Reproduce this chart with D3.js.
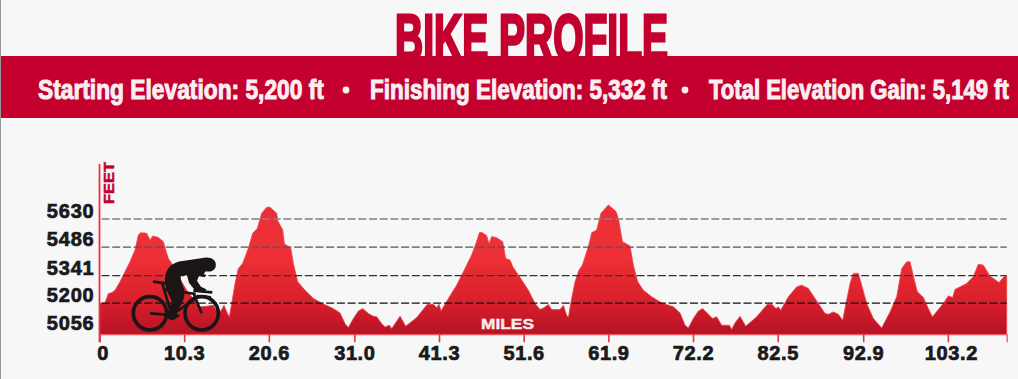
<!DOCTYPE html>
<html>
<head>
<meta charset="utf-8">
<script src="https://cdn.jsdelivr.net/npm/d3@7"></script>
<style>
    html, body { margin: 0; padding: 0; background: #f7f7f8; }
    svg { display: block; }
    .heavy { font-family: "Liberation Sans", Arial, sans-serif; font-weight: bold; }
</style>
</head>
<body>
<svg id="chart" width="1018" height="379"></svg>
<script>
// elevation profile (miles, feet)
const profileMiles = [
    0, 0.67, 1.08, 1.48, 1.89, 2.5, 3.1, 3.71, 4.32, 4.73, 5.01, 5.74, 6.15, 6.47, 7.16, 7.77, 8.05, 8.38, 8.78, 9.39,
    10.0, 10.61, 11.22, 12.23, 13.04, 13.85, 14.46, 14.87, 15.15, 15.56, 15.8, 16.08, 16.49, 16.89, 17.42, 18.11, 18.64,
    19.2, 19.73, 20.34, 20.74, 21.56, 21.68, 22.29, 22.49, 23.26, 23.58, 24.11, 25.0, 26.02, 27.23, 28.45, 29.26,
    29.87, 30.27, 30.88, 31.49, 32.02, 32.71, 33.32, 33.72, 34.33, 34.73, 35.26, 35.55, 35.95, 36.56, 36.96, 37.25,
    38.59, 39.88, 40.61, 41.02, 41.3, 41.55, 42.44, 43.45, 44.47, 45.28, 45.8, 46.21, 46.49, 47.1, 47.39, 47.71, 48.32,
    49.05, 49.41, 49.94, 50.27, 51.16, 52.17, 52.98, 53.59, 54.08, 54.6, 55.01, 56.02, 56.43, 56.83, 57.04, 57.32,
    57.85, 58.33, 58.74, 59.47, 59.88, 60.48, 61.01, 61.9, 62.84, 63.16, 63.61, 64.54, 64.94, 65.47, 66.16, 67.17,
    68.39, 69.81, 70.62, 71.23, 71.63, 72.24, 72.85, 73.38, 74.07, 74.55, 75.08, 75.69, 76.62, 76.91, 77.31, 77.92,
    78.32, 78.61, 79.95, 81.24, 81.77, 82.3, 82.58, 82.87, 83.8, 84.81, 85.42, 86.23, 87.04, 88.26, 88.66, 89.27,
    89.88, 90.41, 90.77, 91.3, 91.71, 92.31, 92.72, 93.33, 94.14, 95.15, 96.17, 96.98, 97.59, 98.19, 98.6, 99.13,
    99.49, 100.22, 100.83, 101.32, 102.65, 103.26, 103.79, 104.07, 105.49, 106.3, 106.91, 107.52, 108.33, 109.43,
    110.03, 110.36
];
const profileFeet = [
    5200, 5201, 5249, 5253, 5266, 5309, 5360, 5411, 5471, 5548, 5560, 5557, 5522, 5543, 5536, 5514, 5471, 5428, 5403, 5360,
    5309, 5266, 5232, 5181, 5184, 5189, 5147, 5167, 5189, 5147, 5130, 5198, 5300, 5377, 5403, 5480, 5557,
    5582, 5659, 5690, 5690, 5659, 5621, 5574, 5502, 5483, 5403, 5309, 5266, 5224, 5195, 5172, 5150,
    5095, 5075, 5121, 5160, 5172, 5147, 5133, 5130, 5095, 5078, 5087, 5070, 5095, 5133, 5104, 5082,
    5126, 5194, 5194, 5177, 5194, 5160, 5224, 5292, 5377, 5446, 5505, 5560, 5562, 5545, 5502, 5540, 5534,
    5514, 5428, 5420, 5386, 5331, 5266, 5198, 5167, 5177, 5193, 5167, 5167, 5189, 5138, 5126, 5198,
    5309, 5369, 5394, 5488, 5560, 5574, 5659, 5702, 5668, 5625, 5514, 5492, 5394, 5309, 5266, 5232,
    5201, 5181, 5150, 5087, 5073, 5121, 5160, 5172, 5143, 5121, 5130, 5087, 5087, 5065, 5099, 5133,
    5104, 5082, 5130, 5194, 5194, 5172, 5181, 5164, 5232, 5283, 5292, 5275, 5224, 5147, 5143, 5155,
    5143, 5112, 5189, 5300, 5352, 5352, 5292, 5198, 5121, 5073, 5155, 5232, 5377, 5411, 5411, 5317,
    5258, 5229, 5172, 5130, 5198, 5237, 5229, 5270, 5300, 5335, 5399, 5394, 5338, 5305,
    5335, 5338
];

const feetTicks = [5056, 5200, 5341, 5486, 5630];
const gridFeet = [5200, 5341, 5486, 5630];
const gridColors = ['#111111', '#333333', '#555555', '#808080'];
const mileTicks = [0, 10.3, 20.6, 31.0, 41.3, 51.6, 61.9, 72.2, 82.5, 92.9, 103.2];
const statTexts = ['Starting Elevation: 5,200 ft', 'Finishing Elevation: 5,332 ft', 'Total Elevation Gain: 5,149 ft'];

const baseFeet = 5041; // bottom edge of the filled area

const svg = d3.select('#chart');

const x = d3.scaleLinear().domain([0, 110.36]).range([99.5, 1006.7]);
const y = d3.scaleLinear().domain([5056, 5630]).range([331.3, 219]);

// squeeze a text into a given width by scaling it, no condensed font is available
function fitText(sel, left, baseline, width, angle) {
    const natural = sel.node().getComputedTextLength();
    sel.attr('transform', `translate(${left},${baseline}) rotate(${angle || 0}) scale(${width / natural},1)`);
}

// left edge of the scan
svg.append('rect').attr('width', 1).attr('height', 379).attr('fill', '#999');

// title sits behind the band so the letters run into it
const title = svg.append('text')
    .attr('class', 'heavy')
    .attr('font-size', 64)
    .attr('fill', '#c4002f')
    .attr('stroke', '#c4002f')
    .attr('stroke-width', 3)
    .text('BIKE PROFILE');
fitText(title, 395, 60, 273);

svg.append('rect')
    .attr('x', 1).attr('y', 56)
    .attr('width', 1017).attr('height', 62)
    .attr('fill', '#c4002f');

// stats line in the band
const statBox = [[38, 286], [370, 297], [709, 300]];
svg.selectAll('.stat')
    .data(statTexts)
    .enter().append('text')
    .attr('class', 'stat heavy')
    .attr('font-size', 27)
    .attr('fill', '#fbeef1')
    .attr('stroke', '#fbeef1')
    .attr('stroke-width', 1)
    .text(d => d)
    .each(function(d, i) {
        fitText(d3.select(this), statBox[i][0], 99, statBox[i][1]);
    });

svg.selectAll('.dot')
    .data([346, 685])
    .enter().append('circle')
    .attr('cx', d => d).attr('cy', 90).attr('r', 3.4)
    .attr('fill', '#fbeef1');

// gradient for the profile fill
const defs = svg.append('defs');
const grad = defs.append('linearGradient')
    .attr('id', 'profileFill')
    .attr('gradientUnits', 'userSpaceOnUse')
    .attr('x1', 0).attr('x2', 0)
    .attr('y1', 205).attr('y2', y(baseFeet));
grad.append('stop').attr('offset', 0).attr('stop-color', '#ec2f37');
grad.append('stop').attr('offset', 0.4).attr('stop-color', '#ee3036');
grad.append('stop').attr('offset', 0.75).attr('stop-color', '#d81f2b');
grad.append('stop').attr('offset', 1).attr('stop-color', '#b51226');

const area = d3.area()
    .x((d, i) => x(profileMiles[i]))
    .y0(y(baseFeet))
    .y1(d => y(d));

svg.append('path')
    .attr('d', area(profileFeet))
    .attr('fill', 'url(#profileFill)')
    .attr('stroke', '#ee4046')
    .attr('stroke-width', 0.8)
    .attr('stroke-linejoin', 'round');

// dashed elevation lines, drawn over the fill
svg.selectAll('.grid')
    .data(gridFeet)
    .enter().append('line')
    .attr('class', 'grid')
    .attr('x1', x(0) + 2).attr('x2', x(110.36))
    .attr('y1', d => y(d)).attr('y2', d => y(d))
    .attr('stroke', (d, i) => gridColors[i])
    .attr('stroke-width', 1.3)
    .attr('stroke-dasharray', '8,2.7');

// axes
const xAxis = svg.append('g')
    .attr('transform', `translate(0,${y(baseFeet)})`)
    .call(d3.axisBottom(x).tickValues(mileTicks).tickSize(8).tickFormat(d => d === 0 ? '0' : d.toFixed(1)));
xAxis.select('.domain').attr('stroke', '#ee4a50').attr('stroke-width', 1.2);
xAxis.selectAll('.tick line').attr('stroke', '#e8353c').attr('stroke-width', 1.6);
xAxis.selectAll('.tick text')
    .attr('class', 'heavy')
    .attr('y', 12)
    .attr('dx', d => (d === 0 ? 3 : d === 103.2 ? 3 : 0))
    .attr('font-size', 20)
    .attr('letter-spacing', 0.6)
    .attr('fill', '#1a1a1a')
    .attr('stroke', '#1a1a1a')
    .attr('stroke-width', 0.7);

const yAxis = svg.append('g')
    .attr('transform', `translate(${x(0)},0)`)
    .call(d3.axisLeft(y).tickValues(feetTicks).tickSize(0).tickPadding(5).tickFormat(d3.format('d')));
yAxis.select('.domain').remove();
yAxis.selectAll('.tick text')
    .attr('class', 'heavy')
    .attr('dy', -1.5)
    .attr('font-size', 20)
    .attr('letter-spacing', 0.8)
    .attr('fill', '#1a1a1a')
    .attr('stroke', '#1a1a1a')
    .attr('stroke-width', 0.7);

// vertical red axis line runs above the top tick and below the base
svg.append('line')
    .attr('x1', x(0)).attr('x2', x(0))
    .attr('y1', 164).attr('y2', 342)
    .attr('stroke', '#e8353c')
    .attr('stroke-width', 1.8);

const feetLabel = svg.append('text')
    .attr('class', 'heavy')
    .attr('font-size', 15)
    .attr('fill', '#c4002f')
    .attr('stroke', '#c4002f')
    .attr('stroke-width', 0.5)
    .text('FEET');
fitText(feetLabel, 114, 204, 42, -90);

const milesLabel = svg.append('text')
    .attr('class', 'heavy')
    .attr('font-size', 14.5)
    .attr('fill', '#f8ecee')
    .attr('stroke', '#f8ecee')
    .attr('stroke-width', 0.4)
    .text('MILES');
fitText(milesLabel, 481, 329, 53);

// cyclist silhouette
const rider = svg.append('g')
    .attr('transform', 'translate(125,250) scale(0.3333)')
    .attr('fill', '#1b1516')
    .attr('stroke', '#1b1516');

rider.selectAll('.wheel')
    .data([75, 230])
    .enter().append('circle')
    .attr('cx', d => d).attr('cy', 190).attr('r', 50)
    .attr('fill', 'none')
    .attr('stroke-width', 11);

const frameLines = [
    'M75,190 L140,195', 'M140,195 L112,100', 'M84,95 L120,100', 'M118,118 L212,132',
    'M140,195 L208,148', 'M205,128 L230,190', 'M205,122 L262,127', 'M215,138 L258,142'
];
rider.selectAll('.frame')
    .data(frameLines)
    .enter().append('path')
    .attr('d', d => d)
    .attr('fill', 'none')
    .attr('stroke-width', 8);

rider.append('circle')
    .attr('cx', 140).attr('cy', 195).attr('r', 15);

// body: back and helmet, arm, then leg
rider.append('path')
    .attr('stroke', 'none')
    .attr('d', 'M120,82 C123,52 145,34 178,32 L238,23 C263,20 276,34 272,50 C268,64 254,66 242,64 L236,72 L244,75 L238,82 L222,78 L216,92 L228,110 L244,118 L238,128 L212,124 L192,98 L186,76 L168,78 C164,88 172,100 178,120 C182,142 170,165 154,188 L166,198 L144,210 L126,198 L140,152 C130,132 118,112 120,82 Z');
</script>
</body>
</html>
